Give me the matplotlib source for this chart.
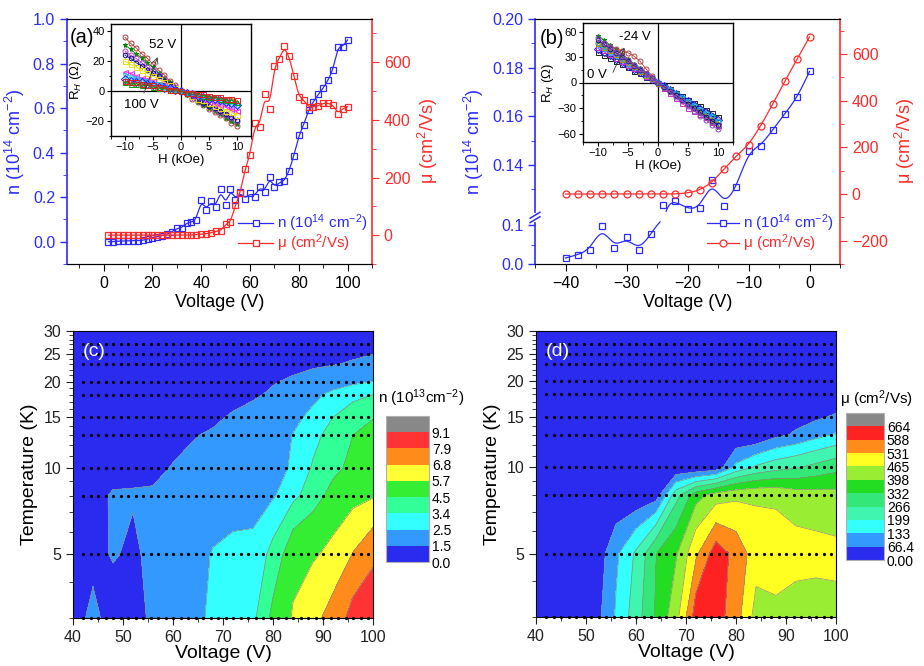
import numpy as np
import matplotlib.pyplot as plt
from matplotlib.ticker import MultipleLocator, FixedLocator, NullFormatter

plt.rcParams['font.family'] = ['Liberation Sans', 'DejaVu Sans']
plt.rcParams['mathtext.fontset'] = 'custom'
plt.rcParams['mathtext.rm'] = 'Liberation Sans'
plt.rcParams['mathtext.it'] = 'Liberation Sans:italic'
plt.rcParams['mathtext.bf'] = 'Liberation Sans:bold'

BLUE = '#2b2bff'
RED = '#ff2b2b'

# ---- (a) positive gate voltage sweep
volt_a = np.arange(2, 102, 2)
n_a = [0.0, 0.0, 0.003, 0.003, 0.004, 0.005, 0.005, 0.006, 0.012, 0.018,
       0.022, 0.027, 0.033, 0.045, 0.060, 0.062, 0.084, 0.088, 0.099, 0.188,
       0.143, 0.181, 0.155, 0.236, 0.163, 0.238, 0.188, 0.223, 0.191, 0.218,
       0.203, 0.247, 0.224, 0.289, 0.244, 0.266, 0.272, 0.317, 0.387, 0.477,
       0.523, 0.592, 0.629, 0.662, 0.689, 0.726, 0.771, 0.876, 0.876, 0.906]
mu_a = [0, 0, 0, 0, 0, 0, 0, 0, 0, 0, 0, 0, 0, 0, 0, 0, 0, 0, 2, 3,
        5, 8, 14, 15, 38, 44, 104, 147, 230, 277, 388, 376, 489, 438, 588, 611,
        655, 620, 553, 481, 469, 444, 446, 449, 458, 458, 452, 421, 439, 446]

# ---- (b) negative gate voltage sweep
volt_b = np.arange(-40, 2, 2)
n_b = [0.0155, 0.024, 0.037, 0.098, 0.041, 0.070, 0.035, 0.078, 0.1236, 0.1252,
       0.1218, 0.1221, 0.1337, 0.1232, 0.1307, 0.1455, 0.1478, 0.1545, 0.1611,
       0.1678, 0.1784]
mu_b = [0, 0, 0, 0, 0, 0, 0, 0, 0, 0, 4, 16, 49, 107, 163, 210, 291, 387, 486,
        579, 673]

# ---- Hall resistance insets, H = -10 ... 10 kOe
field = np.arange(-10, 11, 1)
rh_a = [
    [36, 32, 29, 25, 22, 18, 14, 11, 7, 4, 0, -2, -5, -7, -9, -12, -14, -16, -18, -21, -23],
    [31, 28, 25, 22, 19, 16, 12, 9, 6, 3, 0, -2, -4, -7, -9, -11, -13, -15, -18, -20, -22],
    [27, 24, 22, 19, 16, 14, 11, 8, 5, 3, 0, -2, -4, -6, -8, -10, -12, -14, -16, -18, -20],
    [24, 22, 19, 17, 14, 12, 10, 7, 5, 2, 0, -2, -4, -6, -8, -10, -11, -13, -15, -17, -19],
    [20, 18, 16, 14, 12, 10, 8, 6, 4, 2, 0, -2, -3, -5, -6, -8, -10, -11, -13, -14, -16],
    [13, 12, 10, 9, 8, 7, 5, 4, 3, 1, 0, -1, -3, -4, -5, -7, -8, -9, -10, -12, -13],
    [10, 9, 8, 7, 6, 5, 4, 3, 2, 1, 0, -1, -2, -3, -4, -5, -6, -7, -8, -9, -10],
    [8, 7, 6, 6, 5, 4, 3, 2, 2, 1, 0, -1, -2, -3, -4, -5, -5, -6, -7, -8, -9],
    [6, 5, 5, 4, 4, 3, 2, 2, 1, 1, 0, -1, -1, -2, -3, -4, -4, -5, -6, -6, -7],
    [7, 6, 6, 5, 4, 4, 3, 2, 1, 1, 0, -1, -1, -2, -2, -3, -4, -4, -5, -5, -6],
]
rh_b = [
    [55, 50, 44, 39, 33, 28, 22, 17, 11, 6, 0, -5, -10, -16, -21, -26, -31, -36, -42, -47, -52],
    [46, 44, 42, 40, 37, 35, 31, 25, 16, 8, 0, -5, -9, -14, -18, -23, -27, -32, -36, -41, -45],
    [36, 32, 29, 25, 22, 18, 14, 11, 7, 4, 0, -4, -8, -12, -16, -20, -24, -28, -32, -36, -40],
    [40, 36, 32, 28, 24, 20, 16, 12, 8, 4, 0, -4, -9, -13, -18, -22, -26, -31, -35, -40, -44],
    [42, 38, 34, 29, 25, 21, 17, 13, 8, 4, 0, -6, -12, -18, -24, -30, -33, -37, -41, -46, -50],
    [44, 40, 35, 31, 26, 22, 18, 13, 9, 4, 0, -5, -9, -14, -18, -23, -28, -32, -37, -41, -46],
    [47, 42, 38, 33, 28, 24, 19, 14, 9, 5, 0, -5, -10, -14, -19, -24, -29, -34, -38, -43, -48],
    [50, 45, 40, 35, 30, 25, 20, 15, 10, 5, 0, -5, -10, -15, -20, -25, -30, -35, -40, -45, -50],
    [52, 47, 42, 36, 31, 26, 21, 16, 10, 5, 0, -6, -11, -17, -22, -28, -33, -39, -44, -50, -55],
]
marks_a = [('o', '#b23a3a', False), ('*', '#008a00', True), ('o', '#b040d0', False),
           ('h', '#10108a', False), ('s', '#e8e000', False), ('<', '#ff20ff', False),
           ('v', '#00c8ff', False), ('D', '#2020ff', False), ('^', '#00a000', False),
           ('s', '#e02020', False)]
marks_b = [('*', '#008a00', True), ('o', '#c04040', False), ('s', '#202020', False),
           ('D', '#2020ff', False), ('s', '#d030d0', False), ('v', '#00c8ff', False),
           ('^', '#a0a000', False), ('h', '#10108a', False), ('o', '#9040c0', False)]

# ---- (c), (d) maps on the (V, T) grid
map_volt = np.arange(40, 104, 4)
map_temp = [3, 5, 8, 10, 13, 15, 18, 20, 23, 25, 27, 30]
n_map = [
    [1.0, 1.8, 1.0, 1.1, 1.7, 2.0, 2.35, 2.6, 2.9, 3.15, 4.8, 5.8, 6.5, 7.2, 8.3, 8.8],
    [1.0, 1.1, 1.6, 1.3, 1.8, 2.0, 2.2, 2.55, 2.7, 2.75, 3.7, 5.3, 5.55, 6.0, 6.85, 7.6],
    [1.0, 1.2, 1.6, 1.6, 1.6, 1.8, 1.9, 2.0, 2.1, 2.1, 2.4, 3.1, 4.0, 4.9, 5.3, 5.6],
    [0.9, 1.0, 1.1, 1.2, 1.3, 1.55, 1.7, 1.8, 1.9, 2.0, 2.2, 2.6, 3.5, 4.2, 4.8, 5.2],
    [0.8, 0.9, 1.0, 1.0, 1.1, 1.2, 1.45, 1.6, 1.75, 1.9, 2.1, 2.52, 3.1, 3.8, 4.5, 4.9],
    [0.7, 0.8, 0.9, 0.9, 1.0, 1.1, 1.2, 1.35, 1.6, 1.75, 1.95, 2.3, 2.7, 3.4, 4.0, 4.45],
    [0.6, 0.7, 0.8, 0.8, 0.9, 0.9, 1.0, 1.1, 1.2, 1.4, 1.6, 1.9, 2.3, 2.7, 3.1, 3.4],
    [0.5, 0.6, 0.7, 0.7, 0.8, 0.8, 0.9, 1.0, 1.1, 1.2, 1.45, 1.6, 1.9, 2.1, 2.3, 2.5],
    [0.4, 0.5, 0.6, 0.6, 0.7, 0.7, 0.8, 0.9, 1.0, 1.1, 1.2, 1.3, 1.35, 1.45, 1.6, 1.75],
    [0.4, 0.4, 0.5, 0.5, 0.6, 0.6, 0.7, 0.8, 0.9, 1.0, 1.1, 1.15, 1.2, 1.3, 1.35, 1.48],
    [0.3, 0.4, 0.4, 0.5, 0.5, 0.6, 0.6, 0.7, 0.8, 0.8, 0.9, 0.95, 1.0, 1.05, 1.1, 1.2],
    [0.3, 0.3, 0.4, 0.4, 0.4, 0.5, 0.5, 0.6, 0.6, 0.7, 0.7, 0.8, 0.8, 0.9, 0.9, 1.0],
]
mu_map = [
    [0, 0, 0, 40, 140, 235, 340, 440, 620, 610, 560, 440, 455, 440, 440, 450],
    [0, 0, 0, 20, 120, 210, 330, 390, 520, 620, 570, 500, 490, 490, 485, 480],
    [0, 0, 0, 0, 0, 0, 30, 240, 370, 430, 450, 455, 455, 430, 425, 420],
    [0, 0, 0, 0, 0, 0, 0, 0, 0, 20, 150, 210, 240, 260, 285, 310],
    [0, 0, 0, 0, 0, 0, 0, 0, 0, 0, 0, 0, 50, 75, 110, 140],
    [0, 0, 0, 0, 0, 0, 0, 0, 0, 0, 0, 0, 0, 45, 55, 75],
    [0, 0, 0, 0, 0, 0, 0, 0, 0, 0, 0, 0, 0, 0, 0, 20],
    [0] * 16, [0] * 16, [0] * 16, [0] * 16, [0] * 16,
]
n_levels = [0, 1.5, 2.5, 3.4, 4.5, 5.7, 6.8, 7.9, 9.1, 10.2]
n_ticklabels = ['0.0', '1.5', '2.5', '3.4', '4.5', '5.7', '6.8', '7.9', '9.1']
mu_levels = [0, 66.4, 133, 199, 266, 332, 398, 465, 531, 588, 664, 730]
mu_ticklabels = ['0.00', '66.4', '133', '199', '266', '332', '398', '465', '531',
                 '588', '664']
n_colors = ['#2b2bf0', '#3399ff', '#33ffff', '#33ff99', '#33ee33', '#ffff33',
            '#ff8c1a', '#ff3333', '#888888']
mu_colors = ['#2b2bf0', '#3399ff', '#33ffff', '#40f5b0', '#33e878', '#22dd22',
             '#99ee33', '#ffff22', '#ff8c1a', '#ff2222', '#888888']
meas_volt = np.arange(42, 100.5, 1.5)
meas_temp = [3, 5, 8, 10, 13, 15, 18, 20, 23, 25, 27]

N_LABEL = r'n (10$^{14}$ cm$^{-2}$)'
MU_LABEL = r'μ (cm$^2$/Vs)'


def bspline(x, y, n=12):
    # uniform cubic B-spline with the data points as control points
    px = np.r_[x[0], x[0], x, x[-1], x[-1]].astype(float)
    py = np.r_[y[0], y[0], y, y[-1], y[-1]].astype(float)
    t = np.linspace(0, 1, n, endpoint=False)[:, None]
    w = [(1 - t) ** 3 / 6, (3 * t**3 - 6 * t**2 + 4) / 6,
         (-3 * t**3 + 3 * t**2 + 3 * t + 1) / 6, t**3 / 6]
    sx = sum(w[k] * px[k:len(px) - 3 + k] for k in range(4)).T.ravel()
    sy = sum(w[k] * py[k:len(py) - 3 + k] for k in range(4)).T.ravel()
    return np.r_[sx, px[-1]], np.r_[sy, py[-1]]


# broken n axis of (b): 0-0.11 and 0.12-0.20
def brk_fwd(v):
    v = np.asarray(v, float)
    return np.where(v < 0.11, v * 1160,
                    np.where(v < 0.12, 127.6 + (v - 0.11) * 2440, 152 + (v - 0.12) * 7300))


def brk_inv(p):
    p = np.asarray(p, float)
    return np.where(p < 127.6, p / 1160,
                    np.where(p < 152, 0.11 + (p - 127.6) / 2440, 0.12 + (p - 152) / 7300))


W, H = 924, 666
fig = plt.figure(figsize=(W / 100, H / 100), dpi=100)


def px_axes(l, t, r, b):
    return fig.add_axes([l / W, 1 - b / H, (r - l) / W, (b - t) / H])


def style_twin(ax, tw, xmaj, xmin):
    ax.spines['left'].set_color(BLUE)
    ax.spines['left'].set_linewidth(1.2)
    ax.spines['right'].set_visible(False)
    tw.spines['left'].set_visible(False)
    tw.spines['right'].set_color(RED)
    tw.spines['right'].set_linewidth(1.2)
    ax.tick_params(axis='y', which='both', colors=BLUE, direction='out', labelsize=11.5)
    ax.tick_params(axis='y', which='major', length=5, width=1)
    ax.tick_params(axis='y', which='minor', length=3)
    tw.tick_params(axis='y', which='both', colors=RED, direction='out', labelsize=11.5)
    tw.tick_params(axis='y', which='major', length=5)
    tw.tick_params(axis='y', which='minor', length=3)
    ax.tick_params(axis='x', which='both', direction='out', labelsize=11.5, top=False)
    ax.tick_params(axis='x', which='major', length=5)
    ax.tick_params(axis='x', which='minor', length=3)
    ax.xaxis.set_major_locator(MultipleLocator(xmaj))
    ax.xaxis.set_minor_locator(MultipleLocator(xmin))
    ax.set_xlabel('Voltage (V)', fontsize=13, labelpad=2)
    ax.set_ylabel(N_LABEL, color=BLUE, fontsize=13, labelpad=4)
    tw.set_ylabel(MU_LABEL, color=RED, fontsize=13, labelpad=4)


def key(ax, rows, x0=0.562, x1=0.675, xt=0.688):
    # hand-made legend: line + marker handle and coloured text per row
    for y, color, marker, label in rows:
        ax.plot([x0, x1], [y, y], color=color, lw=0.9, transform=ax.transAxes,
                clip_on=False)
        ax.plot([(x0 + x1) / 2], [y], marker=marker, ms=5, mfc='white', mec=color,
                mew=0.9, transform=ax.transAxes, clip_on=False)
        ax.text(xt, y, label, color=color, fontsize=11, va='center',
                transform=ax.transAxes)


def hall_inset(axi, curves, marks, ylim, yticks):
    axi.axhline(0, color='k', lw=0.9)
    axi.axvline(0, color='k', lw=0.9)
    for vals, (m, c, filled) in zip(curves, marks):
        axi.plot(field, vals, color=c, lw=0.6, marker=m, ms=3.6, mew=0.7,
                 mfc=c if filled else 'none', mec=c)
    axi.set_xlim(-12.5, 12.5)
    axi.set_ylim(*ylim)
    axi.set_xticks([-10, -5, 0, 5, 10])
    axi.set_yticks(yticks)
    axi.xaxis.set_minor_locator(MultipleLocator(2.5))
    axi.yaxis.set_minor_locator(MultipleLocator((yticks[1] - yticks[0]) / 2))
    axi.tick_params(which='both', direction='out', labelsize=8, pad=1.5)
    axi.tick_params(which='major', length=3)
    axi.tick_params(which='minor', length=1.8)
    axi.set_xlabel('H (kOe)', fontsize=9.5, labelpad=1)
    axi.set_ylabel(r'R$_H$ (Ω)', fontsize=9.5, labelpad=1)
    for s in axi.spines.values():
        s.set_linewidth(1.0)


# ================= (a) =================
ax_a = px_axes(67, 19, 372, 264)
tw_a = ax_a.twinx()
sx, sy = bspline(volt_a, n_a)
ax_a.plot(sx, sy, color=BLUE, lw=0.9)
ax_a.plot(volt_a, n_a, ls='none', marker='s', ms=5, mfc='none', mec=BLUE, mew=0.9)
sx, sy = bspline(volt_a, mu_a)
tw_a.plot(sx, sy, color=RED, lw=0.9)
tw_a.plot(volt_a, mu_a, ls='none', marker='s', ms=5, mfc='none', mec=RED, mew=0.9)
ax_a.set_xlim(-15, 110)
ax_a.set_ylim(-0.1, 1.0)
ax_a.yaxis.set_major_locator(MultipleLocator(0.2))
ax_a.yaxis.set_minor_locator(MultipleLocator(0.1))
ax_a.yaxis.set_major_formatter(lambda v, p: f'{v:.1f}')
tw_a.set_ylim(-100, 750)
tw_a.set_yticks([0, 200, 400, 600])
tw_a.yaxis.set_minor_locator(MultipleLocator(100))
style_twin(ax_a, tw_a, 20, 10)
ax_a.text(0.008, 0.965, '(a)', transform=ax_a.transAxes, fontsize=14.5, va='top')
key(tw_a, [(0.167, BLUE, 's', N_LABEL), (0.086, RED, 's', MU_LABEL)])

ins_a = px_axes(111, 24, 251, 136)
hall_inset(ins_a, rh_a, marks_a, (-30, 45), [-20, 0, 20, 40])
ins_a.annotate('', xy=(-4.0, 24.5), xytext=(-6.8, -3),
               arrowprops=dict(arrowstyle='->', lw=0.6, color='#333333'))
ins_a.text(-3.3, 31, '52 V', fontsize=9.5, ha='center', va='center')
ins_a.text(-7.0, -9.5, '100 V', fontsize=9.5, ha='center', va='center')

# ================= (b) =================
ax_b = px_axes(535, 19, 840, 264)
ax_b.set_yscale('function', functions=(brk_fwd, brk_inv))
tw_b = ax_b.twinx()
sx, sy = bspline(volt_b, n_b)
sy = np.where((sy > 0.11) & (sy < 0.12), np.nan, sy)
ax_b.plot(sx, sy, color=BLUE, lw=0.9)
ax_b.plot(volt_b, n_b, ls='none', marker='s', ms=5, mfc='none', mec=BLUE, mew=0.9)
sx, sy = bspline(volt_b, mu_b)
tw_b.plot(sx, sy, color=RED, lw=0.9)
tw_b.plot(volt_b, mu_b, ls='none', marker='o', ms=5, mfc='none', mec=RED, mew=0.9)
ax_b.set_xlim(-45, 5)
ax_b.set_ylim(0, 0.20)
ax_b.yaxis.set_major_locator(FixedLocator([0, 0.1, 0.14, 0.16, 0.18, 0.20]))
ax_b.yaxis.set_minor_locator(FixedLocator([0.05, 0.13, 0.15, 0.17, 0.19]))
ax_b.set_yticklabels(['0.0', '0.1', '0.14', '0.16', '0.18', '0.20'])
ax_b.yaxis.set_minor_formatter(NullFormatter())
tw_b.set_ylim(-300, 750)
tw_b.set_yticks([-200, 0, 200, 400, 600])
tw_b.yaxis.set_minor_locator(MultipleLocator(100))
style_twin(ax_b, tw_b, 10, 5)
ax_b.text(0.016, 0.96, '(b)', transform=ax_b.transAxes, fontsize=14.5, va='top')
# axis break marks on the n axis
yb = brk_fwd(0.115) / brk_fwd(0.20)
ax_b.plot([0, 0], [yb - 0.012, yb + 0.012], transform=ax_b.transAxes, color='white',
          lw=3, clip_on=False, zorder=5)
for dy in (-0.009, 0.009):
    ax_b.plot([-0.016, 0.016], [yb + dy - 0.012, yb + dy + 0.012],
              transform=ax_b.transAxes, color=BLUE, lw=1.1, clip_on=False, zorder=6)
key(tw_b, [(0.166, BLUE, 's', N_LABEL), (0.084, RED, 'o', MU_LABEL)],
    x0=0.563, x1=0.670, xt=0.683)

ins_b = px_axes(583, 23, 733, 142)
hall_inset(ins_b, rh_b, marks_b, (-70, 70), [-60, -30, 0, 30, 60])
ins_b.annotate('', xy=(-5.4, 44), xytext=(-7.7, 9),
               arrowprops=dict(arrowstyle='->', lw=0.6, color='#333333'))
ins_b.text(-3.8, 54, '-24 V', fontsize=9.5, ha='center', va='center')
ins_b.text(-10.1, 9, '0 V', fontsize=9.5, ha='center', va='center')


# ================= (c), (d) =================
def map_panel(ax, cax, z, levels, colors, ticklabels, label, title, title_xy):
    vv, tt = np.meshgrid(map_volt, map_temp)
    z = np.asarray(z, float)
    cf = ax.contourf(vv, tt, z, levels=levels, colors=colors)
    ax.contour(vv, tt, z, levels=levels[1:-1], colors='#8c8c8c', linewidths=0.5)
    mv, mt = np.meshgrid(meas_volt, meas_temp)
    ax.plot(mv.ravel(), mt.ravel(), ls='none', marker='o', ms=1.3, color='k',
            clip_on=False)
    ax.set_yscale('log')
    ax.set_xlim(40, 100)
    ax.set_ylim(3, 30)
    ax.xaxis.set_major_locator(MultipleLocator(10))
    ax.xaxis.set_minor_locator(MultipleLocator(5))
    ax.yaxis.set_major_locator(FixedLocator([5, 10, 15, 20, 25, 30]))
    ax.yaxis.set_major_formatter(lambda v, p: f'{v:.0f}')
    ax.yaxis.set_minor_locator(FixedLocator([t for t in range(3, 30) if t % 5]))
    ax.yaxis.set_minor_formatter(NullFormatter())
    ax.tick_params(which='both', direction='out', labelsize=11.5, colors='#222222')
    ax.tick_params(which='major', length=5)
    ax.tick_params(which='minor', length=3)
    ax.set_xlabel('Voltage (V)', fontsize=14, labelpad=0)
    ax.set_ylabel('Temperature (K)', fontsize=14, labelpad=4)
    ax.text(0.033, 0.958, label, transform=ax.transAxes, fontsize=14, va='top',
            color='white')
    cb = fig.colorbar(cf, cax=cax, spacing='uniform')
    cb.set_ticks(levels[:-1])
    cb.set_ticklabels(ticklabels)
    cb.ax.tick_params(length=0, labelsize=10, pad=2)
    cb.outline.set_edgecolor('#b0b0b0')
    fig.text(title_xy[0] / W, 1 - title_xy[1] / H, title, fontsize=11, va='center')


ax_c = px_axes(73, 331, 373, 618)
cax_c = px_axes(386, 416, 429, 562)
map_panel(ax_c, cax_c, n_map, n_levels, n_colors, n_ticklabels, '(c)',
          r'n (10$^{13}$cm$^{-2}$)', (378, 398))

ax_d = px_axes(536, 331, 836, 617)
cax_d = px_axes(846, 413, 884, 560)
map_panel(ax_d, cax_d, mu_map, mu_levels, mu_colors, mu_ticklabels, '(d)',
          r'μ (cm$^2$/Vs)', (840, 399))

fig.savefig('out.png', dpi=100)
